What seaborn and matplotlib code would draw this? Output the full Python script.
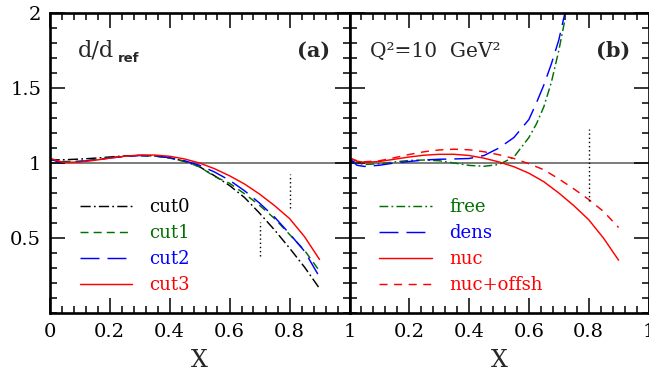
import matplotlib
matplotlib.use("Agg")
import matplotlib.pyplot as plt
import pandas as pd
import seaborn as sns
from matplotlib.ticker import MultipleLocator, FixedLocator, FixedFormatter

# ---- panel (a): d/d_ref for different kinematic cuts ----
x_a = [0, 0.025, 0.05, 0.1, 0.15, 0.2, 0.25, 0.3, 0.35, 0.4, 0.45,
       0.5, 0.55, 0.6, 0.65, 0.7, 0.75, 0.8, 0.85, 0.9]
cut0 = [1.02, 1.021, 1.022, 1.026, 1.032, 1.04, 1.047, 1.05, 1.048, 1.035,
        1.012, 0.975, 0.915, 0.85, 0.77, 0.666, 0.554, 0.433, 0.306, 0.164]
cut1 = [1.025, 1.015, 1.01, 1.012, 1.022, 1.034, 1.044, 1.049, 1.046, 1.033,
        1.01, 0.975, 0.91, 0.865, 0.795, 0.718, 0.63, 0.524, 0.418, 0.28]
cut2 = [1.03, 1.01, 1.005, 1.01, 1.02, 1.033, 1.044, 1.05, 1.047, 1.036,
        1.015, 0.985, 0.94, 0.885, 0.815, 0.733, 0.64, 0.529, 0.412, 0.24]
cut3 = [1.034, 1.015, 1.004, 1.006, 1.018, 1.032, 1.045, 1.053, 1.053, 1.045,
        1.027, 1.0, 0.962, 0.915, 0.86, 0.793, 0.716, 0.63, 0.509, 0.357]

# ---- panel (b): nuclear corrections at Q^2 = 10 GeV^2 ----
x_rise = [0, 0.025, 0.05, 0.1, 0.15, 0.2, 0.25, 0.3, 0.35, 0.4, 0.45,
          0.5, 0.55, 0.6, 0.625, 0.65, 0.675, 0.7, 0.725, 0.75]
free = [1.02, 1.0, 0.99, 0.995, 1.007, 1.017, 1.02, 1.015, 1.0, 0.984, 0.978,
        0.99, 1.04, 1.17, 1.26, 1.375, 1.537, 1.75, 2.0, 2.3]
dens = [1.03, 0.985, 0.977, 0.985, 1.0, 1.01, 1.02, 1.025, 1.027, 1.03, 1.05,
        1.1, 1.17, 1.29, 1.4, 1.52, 1.66, 1.82, 2.04, 2.3]
x_b = [0, 0.025, 0.05, 0.1, 0.15, 0.2, 0.25, 0.3, 0.35, 0.4, 0.45,
       0.5, 0.55, 0.6, 0.65, 0.7, 0.75, 0.8, 0.85, 0.9]
nuc = [1.033, 1.012, 1.004, 1.01, 1.025, 1.04, 1.052, 1.058, 1.058, 1.05,
       1.032, 1.007, 0.975, 0.932, 0.875, 0.8, 0.716, 0.622, 0.498, 0.352]
nuc_offsh = [1.033, 1.015, 1.008, 1.015, 1.035, 1.057, 1.075, 1.087, 1.092,
             1.088, 1.075, 1.055, 1.03, 0.995, 0.955, 0.894, 0.828, 0.757,
             0.676, 0.57]

# dotted markers of the x limits
a_cut_x = [0.7, 0.8]
a_cut_lo = [0.377, 0.70]
a_cut_hi = [0.604, 0.927]
b_cut_x = [0.8]
b_cut_lo = [0.744]
b_cut_hi = [1.227]

x_ticks = [0, 0.2, 0.4, 0.6, 0.8, 1]
x_labels_a = ["0", "0.2", "0.4", "0.6", "0.8", "1"]
x_labels_b = ["", "0.2", "0.4", "0.6", "0.8", "1"]
y_ticks = [0.5, 1, 1.5, 2]
y_labels = ["0.5", "1", "1.5", "2"]

GREEN = "#007000"
BLUE = "#0000ff"
RED = "#ff0000"

sns.set_style("ticks")
plt.rcParams["font.family"] = ["DejaVu Serif"]
plt.rcParams["mathtext.fontset"] = "dejavuserif"

W, H = 649, 377
fig = plt.figure(figsize=(W / 100, H / 100), dpi=100)
ax_a = fig.add_axes([49.5 / W, (H - 313) / H, 300 / W, 300 / H])
ax_b = fig.add_axes([349.5 / W, (H - 313) / H, 299 / W, 300 / H])

series_a = [
    ("cut0", cut0, "black", (0, (7, 2.2, 1.2, 2.2))),
    ("cut1", cut1, GREEN, (0, (5.5, 3.5))),
    ("cut2", cut2, BLUE, (0, (13, 5.5))),
    ("cut3", cut3, RED, "-"),
]
for name, ys, col, ls in series_a:
    df = pd.DataFrame({"x": x_a, "y": ys})
    sns.lineplot(data=df, x="x", y="y", ax=ax_a, color=col, linestyle=ls,
                 lw=1.05, label=name, sort=False)

series_b = [
    ("free", x_rise, free, GREEN, (0, (6, 2.2, 1.2, 2.2))),
    ("dens", x_rise, dens, BLUE, (0, (13, 5.5))),
    ("nuc", x_b, nuc, RED, "-"),
    ("nuc+offsh", x_b, nuc_offsh, RED, (0, (5.5, 4.5))),
]
for name, xs, ys, col, ls in series_b:
    df = pd.DataFrame({"x": xs, "y": ys})
    sns.lineplot(data=df, x="x", y="y", ax=ax_b, color=col, linestyle=ls,
                 lw=1.05, label=name, sort=False)

ax_a.vlines(a_cut_x, a_cut_lo, a_cut_hi, colors="black", linestyles=(0, (1, 2)), lw=1.0)
ax_b.vlines(b_cut_x, b_cut_lo, b_cut_hi, colors="black", linestyles=(0, (1, 2)), lw=1.0)

for ax, xl in ((ax_a, x_labels_a), (ax_b, x_labels_b)):
    ax.axhline(1.0, color="0.4", lw=1.2, zorder=0)
    ax.set_xlim(0, 1)
    ax.set_ylim(0, 2)
    ax.xaxis.set_major_locator(FixedLocator(x_ticks))
    ax.xaxis.set_major_formatter(FixedFormatter(xl))
    ax.xaxis.set_minor_locator(MultipleLocator(0.04))
    ax.yaxis.set_major_locator(FixedLocator(y_ticks))
    ax.yaxis.set_minor_locator(MultipleLocator(0.1))
    ax.tick_params(which="both", direction="in", top=True, right=True,
                   width=1.1, colors="black", labelsize=14)
    ax.tick_params(axis="x", pad=7)
    ax.tick_params(axis="y", pad=6)
    ax.tick_params(which="major", length=10.5)
    ax.tick_params(which="minor", length=5)
    for sp in ax.spines.values():
        sp.set_linewidth(1.9)
        sp.set_color("black")
    ax.set_xlabel("X", fontsize=17, labelpad=6)
    ax.set_ylabel("")

ax_a.yaxis.set_major_formatter(FixedFormatter(y_labels))
ax_b.tick_params(axis="y", labelleft=False)

leg_kw = dict(loc="upper left", frameon=False, fontsize=13, handlelength=2.9,
              handletextpad=0.95, labelspacing=0.45, borderpad=0,
              borderaxespad=0, labelcolor="linecolor")
ax_a.legend(bbox_to_anchor=(0.102, 0.383), **leg_kw)
ax_b.legend(bbox_to_anchor=(0.10, 0.383), **leg_kw)

# panel annotations
ax_a.text(0.095, 0.855, "d/d", transform=ax_a.transAxes, fontsize=16,
          ha="left", va="baseline")
ax_a.text(0.228, 0.835, "ref", transform=ax_a.transAxes, fontsize=9.5,
          ha="left", va="baseline", family="DejaVu Sans", weight="bold")
ax_a.text(0.935, 0.855, "(a)", transform=ax_a.transAxes, fontsize=15,
          ha="right", va="baseline", weight="bold")
ax_b.text(0.07, 0.855, "Q²=10  GeV²", transform=ax_b.transAxes, fontsize=14.5,
          ha="left", va="baseline")
ax_b.text(0.94, 0.855, "(b)", transform=ax_b.transAxes, fontsize=15,
          ha="right", va="baseline", weight="bold")

fig.savefig("out.png", dpi=100)
